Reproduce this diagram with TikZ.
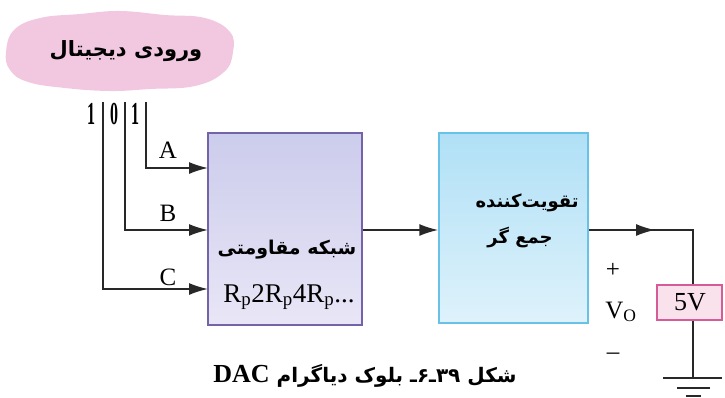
\documentclass[tikz,border=0pt]{standalone}
\usepackage{fontspec}
\setmainfont{Liberation Serif}
\newfontfamily\persfont[Script=Arabic]{DejaVu Sans}
\TeXXeTstate=1
\usepackage{tikz}
\usetikzlibrary{arrows.meta}
\pgfdeclarelayer{edgelayer}
\pgfdeclarelayer{nodelayer}
\pgfsetlayers{edgelayer,main,nodelayer}
\definecolor{cloudpink}{RGB}{242,200,224}
\definecolor{netline}{RGB}{118,98,168}
\definecolor{nettop}{RGB}{204,204,236}
\definecolor{netbot}{RGB}{232,230,246}
\definecolor{ampline}{RGB}{104,194,232}
\definecolor{amptop}{RGB}{176,224,246}
\definecolor{ampbot}{RGB}{222,242,251}
\definecolor{srcline}{RGB}{214,92,152}
\definecolor{srcfill}{RGB}{250,226,236}
\definecolor{wire}{RGB}{40,40,40}
\tikzstyle{edge}=[draw=wire, line width=1.5pt]
\tikzstyle{arrow}=[edge, -{Latex[length=19pt,width=12pt]}]
\tikzstyle{netbox}=[draw=netline, line width=1.5pt, top color=nettop, bottom color=netbot, minimum width=154pt, minimum height=192pt]
\tikzstyle{ampbox}=[draw=ampline, line width=1.5pt, top color=amptop, bottom color=ampbot, minimum width=149pt, minimum height=190pt]
\tikzstyle{srcbox}=[draw=srcline, line width=1.5pt, fill=srcfill, minimum width=65pt, minimum height=35pt, inner sep=0pt]
\tikzstyle{pers}=[font=\persfont\bfseries\fontsize{19}{22}\selectfont, inner sep=0pt]
\tikzstyle{latin}=[font=\fontsize{25}{27}\selectfont, inner sep=0pt]
\tikzstyle{bit}=[font=\fontsize{32}{34}\selectfont, inner sep=0pt]

\begin{document}
\begin{tikzpicture}[x=1pt, y=-1pt]
			\useasboundingbox (0,0) rectangle (725,397);
			\begin{pgfonlayer}{edgelayer}
			\fill [cloudpink] plot [smooth cycle, tension=0.7] coordinates {(6,52) (14,30) (40,18) (80,14) (120,11) (165,15) (205,18) (230,32) (233,52) (224,72) (195,86) (150,89) (110,91) (65,88) (28,82) (10,70)};
			\end{pgfonlayer}
			\begin{pgfonlayer}{nodelayer}
			\node [style=pers, font=\persfont\bfseries\fontsize{21}{24}\selectfont] (0) at (126,51) {\beginR ورودی دیجیتال\endR};
			\node [style=bit] (1) at (91,114) {\scalebox{0.5}[1]{\bfseries 1}};
			\node [style=bit] (2) at (114,114) {\scalebox{0.5}[1]{\bfseries 0}};
			\node [style=bit] (3) at (135,114) {\scalebox{0.5}[1]{\bfseries 1}};
			\node [style=netbox] (4) at (285,229) {};
			\node [style=ampbox] (5) at (513.5,228) {};
			\node [style=srcbox] (6) at (689.5,302.5) {};
			\node [style=pers] (7) at (287,250) {\beginR شبکه مقاومتی\endR};
			\node [style=latin, font=\fontsize{27}{29}\selectfont] (8) at (289,297) {R\textsubscript{p}2R\textsubscript{p}4R\textsubscript{p}...};
			\node [style=pers, font=\persfont\bfseries\fontsize{18}{22}\selectfont] (9) at (527,203) {\beginR تقویت‌کننده\endR};
			\node [style=pers, font=\persfont\bfseries\fontsize{18}{22}\selectfont] (10) at (520,238) {\beginR جمع گر\endR};
			\node [style=latin] (11) at (168,150) {A};
			\node [style=latin] (12) at (168,213) {B};
			\node [style=latin] (13) at (168,277) {C};
			\node [style=latin, font=\fontsize{26}{28}\selectfont] (14) at (690,302) {5V};
			\node [style=latin] (15) at (613,270) {+};
			\node [style=latin] (16) at (621,312) {V\textsubscript{O}};
			\node [style=latin] (17) at (613,356) {--};
			\node [style=pers, font=\persfont\bfseries\fontsize{20}{24}\selectfont] (18) at (365,376) {\beginR شکل ۳۹ـ۶ـ بلوک دیاگرام \beginL\bfseries\fontsize{26}{28}\fontspec{Liberation Serif}DAC\endL\endR};
			\end{pgfonlayer}
			\coordinate (a) at (146,102);
			\coordinate (b) at (125,102);
			\coordinate (c) at (103,102);
			\coordinate (ea) at (208,168);
			\coordinate (eb) at (208,230);
			\coordinate (ec) at (208,289);
			\coordinate (m) at (655,230);
			\coordinate (g) at (693,378);
			\begin{pgfonlayer}{edgelayer}
			\draw [style=arrow] (a) |- (ea);
			\draw [style=arrow] (b) |- (eb);
			\draw [style=arrow] (c) |- (ec);
			\draw [style=arrow] (4.east |- eb) to (5.west |- eb);
			\draw [style=edge] (5.east |- m) -| (g |- 6.north);
			\draw [style=arrow] (5.east |- m) to (m);
			\draw [style=edge] (g |- 6.south) to (g);
			\draw [style=edge, shift={(g)}] (-30,0) to (29,0) (-16,10) to (17,10) (-7,18) to (8,18);
			\end{pgfonlayer}
			\end{tikzpicture}
\end{document}
